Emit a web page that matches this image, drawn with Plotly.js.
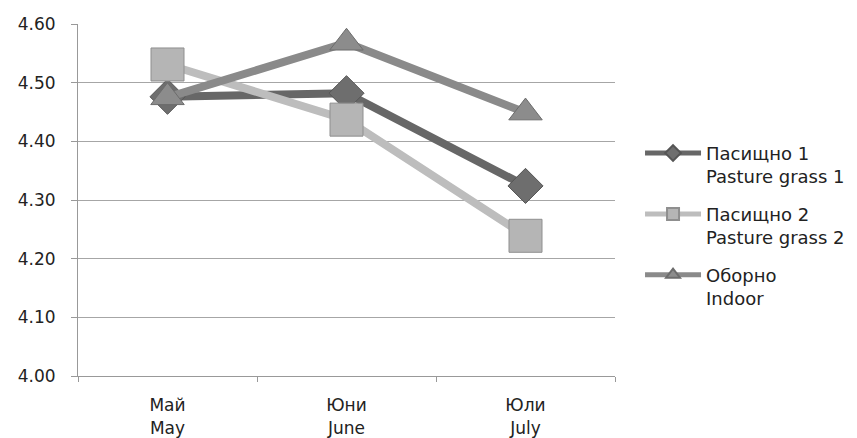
<!DOCTYPE html>
<html>
<head>
<meta charset="utf-8">
<script src="https://cdn.plot.ly/plotly-3.0.1.min.js"></script>
<style>
  html, body { margin: 0; padding: 0; background: #fff; }
  #chart { width: 857px; height: 438px; }
</style>
</head>
<body>
<div id="chart"></div>
<script>
// Months (Bulgarian / English)
const months = ["Май<br>May", "Юни<br>June", "Юли<br>July"];

// Series values per month
const pasture1 = [4.476, 4.482, 4.324];
const pasture2 = [4.531, 4.437, 4.239];
const indoor   = [4.475, 4.568, 4.449];

// Legend names
const name1 = "Пасищно 1<br>Pasture grass 1";
const name2 = "Пасищно 2<br>Pasture grass 2";
const name3 = "Оборно<br>Indoor";

const yTicks = [4.0, 4.1, 4.2, 4.3, 4.4, 4.5, 4.6];

function series(y, name, group, lineColor, fill, edge, symbol, size) {
  return {
    x: months, y: y, name: name, legendgroup: group,
    type: "scatter", mode: "lines+markers",
    line: { color: lineColor, width: 8 },
    marker: { symbol: symbol, size: size, color: fill, line: { color: edge, width: 1 } }
  };
}

const traces = [
  series(pasture1, name1, "g1", "#676767", "#6e6e6e", "#555555", "diamond", 27),
  series(pasture2, name2, "g2", "#bdbdbd", "#b5b5b5", "#8f8f8f", "square", 33),
  series(indoor,   name3, "g3", "#8a8a8a", "#8c8c8c", "#6c6c6c", "triangle-up", 29)
];

const layout = {
  width: 857, height: 438,
  margin: { l: 78, r: 242, t: 24, b: 62, autoexpand: false },
  paper_bgcolor: "#ffffff", plot_bgcolor: "#ffffff",
  font: { family: "DejaVu Sans, sans-serif", color: "#222" },
  showlegend: true,
  legend: {
    x: 1.0466, y: 0.685, xanchor: "left", yanchor: "top",
    font: { size: 18, color: "#222" },
    valign: "top", tracegroupgap: 11,
    itemsizing: "constant", itemwidth: 56
  },
  xaxis: {
    type: "category",
    showgrid: false, zeroline: false,
    showline: true, linecolor: "#999", linewidth: 1,
    ticks: "outside", tickson: "boundaries", ticklen: 5, tickcolor: "#999",
    tickfont: { size: 17, color: "#222" },
    ticklabelstandoff: 14,
    range: [-0.5, 2.5]
  },
  yaxis: {
    range: [4.0, 4.6],
    tickvals: yTicks, ticktext: yTicks.map(v => v.toFixed(2)),
    showgrid: true, gridcolor: "#a6a6a6", gridwidth: 1,
    zeroline: false,
    showline: true, linecolor: "#999", linewidth: 1,
    ticks: "outside", ticklen: 6, tickcolor: "#999",
    tickfont: { size: 17, color: "#222" },
    ticklabelstandoff: 12
  }
};

Plotly.newPlot("chart", traces, layout, { displayModeBar: false, staticPlot: true });
</script>
</body>
</html>
